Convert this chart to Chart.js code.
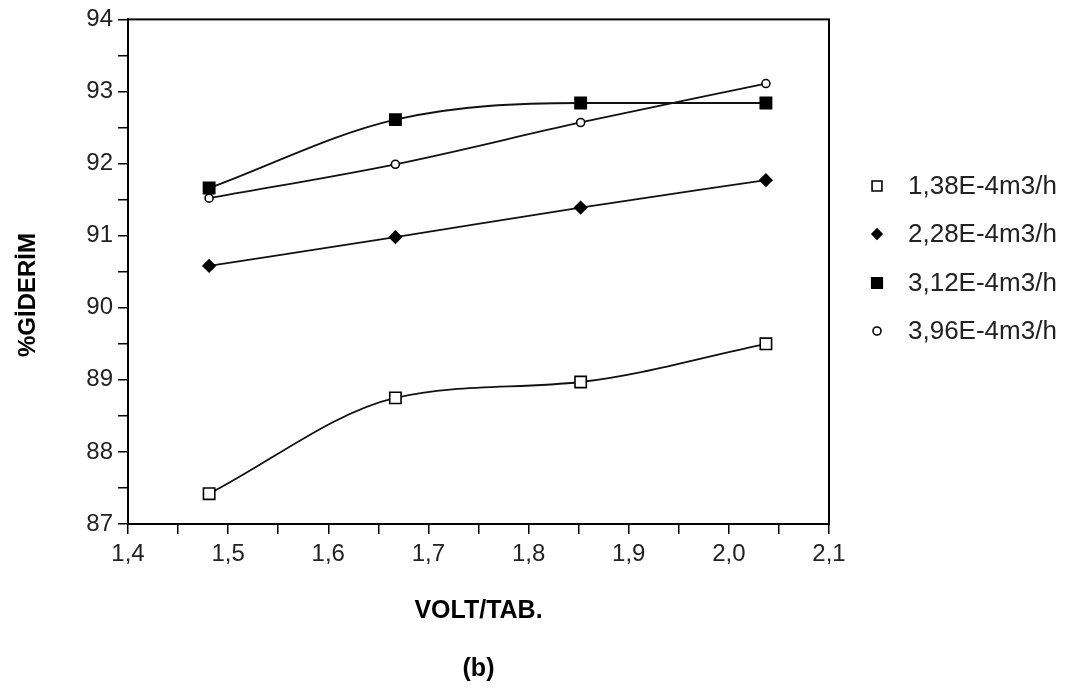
<!DOCTYPE html>
<html>
<head>
<meta charset="utf-8">
<script src="https://cdn.jsdelivr.net/npm/chart.js@4.4.1/dist/chart.umd.min.js"></script>
<style>
  html, body { margin: 0; padding: 0; background: #fff; }
  #wrap { width: 1070px; height: 688px; }
</style>
</head>
<body>
<div id="wrap"><canvas id="c" width="1070" height="688"></canvas></div>
<script>
// ---- data ----
const xVolt = [1.481, 1.667, 1.852, 2.037];
const seriesLabels = ['1,38E-4m3/h', '2,28E-4m3/h', '3,12E-4m3/h', '3,96E-4m3/h'];
const s138 = [87.42, 88.75, 88.97, 89.50];
const s228 = [90.58, 90.98, 91.39, 91.77];
const s312 = [91.66, 92.61, 92.84, 92.84];
const s396 = [91.52, 91.99, 92.57, 93.11];
const xTickLabels = ['1,4', '1,5', '1,6', '1,7', '1,8', '1,9', '2,0', '2,1'];
const yTickLabels = ['87', '88', '89', '90', '91', '92', '93', '94'];
const xTitle = 'VOLT/TAB.';
const yTitle = '%GİDERİM';
const panelLabel = '(b)';

const seriesValues = [s138, s228, s312, s396];
const styles = [
  { pointStyle: 'rect', radius: 8, fill: '#ffffff', legendRadius: 7 },
  { pointStyle: 'rectRot', radius: 6, fill: '#000000', legendRadius: 5 },
  { pointStyle: 'rect', radius: 8, fill: '#000000', legendRadius: 7.5 },
  { pointStyle: 'circle', radius: 4, fill: '#ffffff', legendRadius: 4 }
];

const datasets = seriesValues.map((vals, i) => ({
  label: seriesLabels[i],
  data: vals.map((v, j) => ({ x: xVolt[j], y: v })),
  borderColor: '#111',
  borderWidth: 1.8,
  backgroundColor: styles[i].fill,
  pointStyle: styles[i].pointStyle,
  pointRadius: styles[i].radius,
  pointBackgroundColor: styles[i].fill,
  pointBorderColor: '#000',
  pointBorderWidth: 1.6,
  cubicInterpolationMode: 'monotone',
  fill: false
}));

const frame = {
  id: 'frame',
  afterDraw(chart) {
    const { ctx, chartArea: a } = chart;
    ctx.save();
    ctx.strokeStyle = '#000';
    ctx.lineWidth = 2;
    ctx.strokeRect(a.left, a.top, a.right - a.left, a.bottom - a.top);
    ctx.restore();
  }
};

const customLegend = {
  id: 'customLegend',
  afterDraw(chart) {
    const { ctx } = chart;
    const rows = [186, 234, 283, 331];
    const mx = 877, tx = 908;
    ctx.save();
    chart.data.datasets.forEach((ds, i) => {
      const y = rows[i];
      ctx.fillStyle = styles[i].fill;
      ctx.strokeStyle = '#000';
      ctx.lineWidth = 1.6;
      if (Chart.helpers && Chart.helpers.drawPoint) {
        Chart.helpers.drawPoint(ctx, {
          pointStyle: styles[i].pointStyle,
          radius: styles[i].legendRadius,
          rotation: 0,
          borderWidth: 1.6
        }, mx, y);
      }
      ctx.fillStyle = '#222';
      ctx.font = '26px "Liberation Sans", Arial, sans-serif';
      ctx.textAlign = 'left';
      ctx.textBaseline = 'middle';
      ctx.fillText(ds.label, tx, y + 1);
    });
    ctx.restore();
  }
};

new Chart(document.getElementById('c'), {
  type: 'line',
  data: { datasets },
  options: {
    responsive: false,
    animation: false,
    devicePixelRatio: 1,
    layout: { padding: { top: 19, right: 241, left: 0, bottom: 0 } },
    plugins: {
      legend: { display: false },
      tooltip: { enabled: false }
    },
    scales: {
      x: {
        type: 'linear',
        min: 1.4,
        max: 2.1,
        afterFit(scale) { scale.height = 164; },
        ticks: {
          stepSize: 0.05,
          autoSkip: false,
          maxRotation: 0,
          padding: 6,
          color: '#222',
          font: { family: '"Liberation Sans", Arial, sans-serif', size: 24 },
          callback(value) {
            const t = Math.round(value * 20);
            if (t % 2 !== 0) return '';
            const idx = Math.round((value - 1.4) * 10);
            return xTickLabels[idx] !== undefined ? xTickLabels[idx] : '';
          }
        },
        grid: { drawOnChartArea: false, drawTicks: true, tickLength: 10, color: '#000', lineWidth: 1.5 },
        border: { display: true, color: '#000', width: 2 },
        title: {
          display: true,
          text: [xTitle, '', panelLabel],
          color: '#000',
          font: { family: '"Liberation Sans", Arial, sans-serif', size: 25, weight: 'bold', lineHeight: 1.16 },
          padding: { top: 0, bottom: 4 }
        }
      },
      y: {
        type: 'linear',
        min: 87,
        max: 94,
        afterFit(scale) { scale.width = 128; },
        ticks: {
          stepSize: 0.5,
          autoSkip: false,
          padding: 5,
          color: '#222',
          font: { family: '"Liberation Sans", Arial, sans-serif', size: 24 },
          callback(value) {
            if (Math.abs(value - Math.round(value)) > 1e-6) return '';
            const idx = Math.round(value) - 87;
            return yTickLabels[idx] !== undefined ? yTickLabels[idx] : '';
          }
        },
        grid: { drawOnChartArea: false, drawTicks: true, tickLength: 10, color: '#000', lineWidth: 1.5 },
        border: { display: true, color: '#000', width: 2 },
        title: {
          display: true,
          text: yTitle + '       ',
          color: '#000',
          font: { family: '"Liberation Sans", Arial, sans-serif', size: 24, weight: 'bold' },
          padding: { top: 14, bottom: 0 }
        }
      }
    }
  },
  plugins: [frame, customLegend]
});
</script>
</body>
</html>
